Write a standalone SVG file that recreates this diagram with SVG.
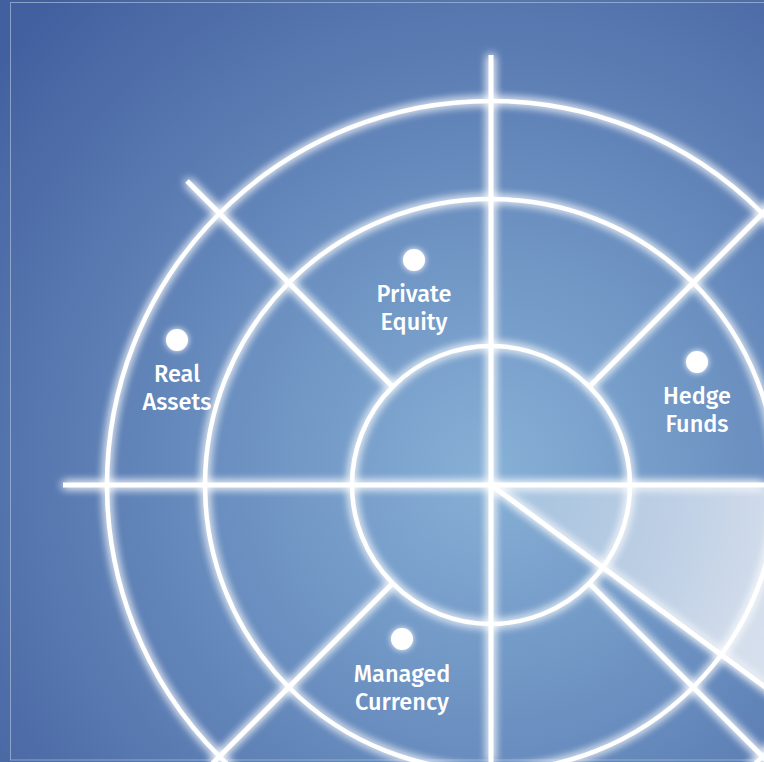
<svg xmlns="http://www.w3.org/2000/svg" width="764" height="762" viewBox="0 0 764 762">
<defs>
<radialGradient id="bg" cx="491" cy="470" r="640" gradientUnits="userSpaceOnUse">
<stop offset="0" stop-color="#87b0d6"/>
<stop offset="0.35" stop-color="#6f95c4"/>
<stop offset="0.75" stop-color="#5474ad"/>
<stop offset="1" stop-color="#42609f"/>
</radialGradient>
<radialGradient id="sweep" cx="491" cy="485" r="400" gradientUnits="userSpaceOnUse">
<stop offset="0" stop-color="#ffffff" stop-opacity="0.25"/>
<stop offset="0.4" stop-color="#ffffff" stop-opacity="0.5"/>
<stop offset="0.75" stop-color="#ffffff" stop-opacity="0.72"/>
<stop offset="1" stop-color="#ffffff" stop-opacity="0.78"/>
</radialGradient>
<filter id="glow" x="-20%" y="-20%" width="140%" height="140%">
<feGaussianBlur in="SourceGraphic" stdDeviation="5" result="b"/>
<feMerge><feMergeNode in="b"/><feMergeNode in="b"/><feMergeNode in="SourceGraphic"/></feMerge>
</filter>
<filter id="soft" x="-10%" y="-10%" width="120%" height="120%">
<feGaussianBlur stdDeviation="3"/>
</filter>
<filter id="dotglow" x="-100%" y="-100%" width="300%" height="300%">
<feGaussianBlur in="SourceGraphic" stdDeviation="3" result="b"/>
<feMerge><feMergeNode in="b"/><feMergeNode in="SourceGraphic"/></feMerge>
</filter>
</defs>
<style>
.ln{stroke:#ffffff;stroke-width:5;fill:none}
.ring{stroke:#ffffff;stroke-width:4.5;fill:none}
.lbl{font-family:"Fira Sans","Open Sans","Noto Sans",sans-serif;font-weight:500;font-size:23.5px;fill:#ffffff;text-anchor:middle}
.dot{fill:#ffffff}
</style>
<rect width="764" height="762" fill="url(#bg)"/>
<rect x="10.5" y="2.5" width="800" height="757.5" fill="none" stroke="#a9bcdc" stroke-opacity="0.7" stroke-width="1"/>
<path id="sweep-wedge" d="M491,485 L780,485 L780,698 Z" fill="url(#sweep)" filter="url(#soft)"/>
<g id="grid" filter="url(#glow)">
<circle class="ring" cx="491" cy="485" r="139"/>
<circle class="ring" cx="491" cy="485" r="286"/>
<circle class="ring" cx="491" cy="485" r="384"/>
<line class="ln" x1="63" y1="485" x2="764" y2="485"/>
<line class="ln" x1="491" y1="55" x2="491" y2="762"/>
<line class="ln" x1="187" y1="181" x2="392" y2="386"/>
<line class="ln" x1="590" y1="386" x2="780" y2="196"/>
<line class="ln" x1="392" y1="584" x2="212" y2="764"/>
<line class="ln" x1="590" y1="584" x2="770" y2="764"/>
<line class="ln" x1="491" y1="485" x2="780" y2="698"/>
</g>
<g id="node-private-equity">
<circle class="dot" cx="414" cy="260" r="11" filter="url(#dotglow)"/>
<text class="lbl" x="414" y="302">Private</text>
<text class="lbl" x="414" y="330">Equity</text>
</g>
<g id="node-real-assets">
<circle class="dot" cx="177" cy="340" r="11" filter="url(#dotglow)"/>
<text class="lbl" x="177" y="382">Real</text>
<text class="lbl" x="177" y="410">Assets</text>
</g>
<g id="node-hedge-funds">
<circle class="dot" cx="697" cy="362" r="11" filter="url(#dotglow)"/>
<text class="lbl" x="697" y="404">Hedge</text>
<text class="lbl" x="697" y="432">Funds</text>
</g>
<g id="node-managed-currency">
<circle class="dot" cx="402" cy="639" r="11" filter="url(#dotglow)"/>
<text class="lbl" x="402" y="682">Managed</text>
<text class="lbl" x="402" y="710">Currency</text>
</g>
</svg>
